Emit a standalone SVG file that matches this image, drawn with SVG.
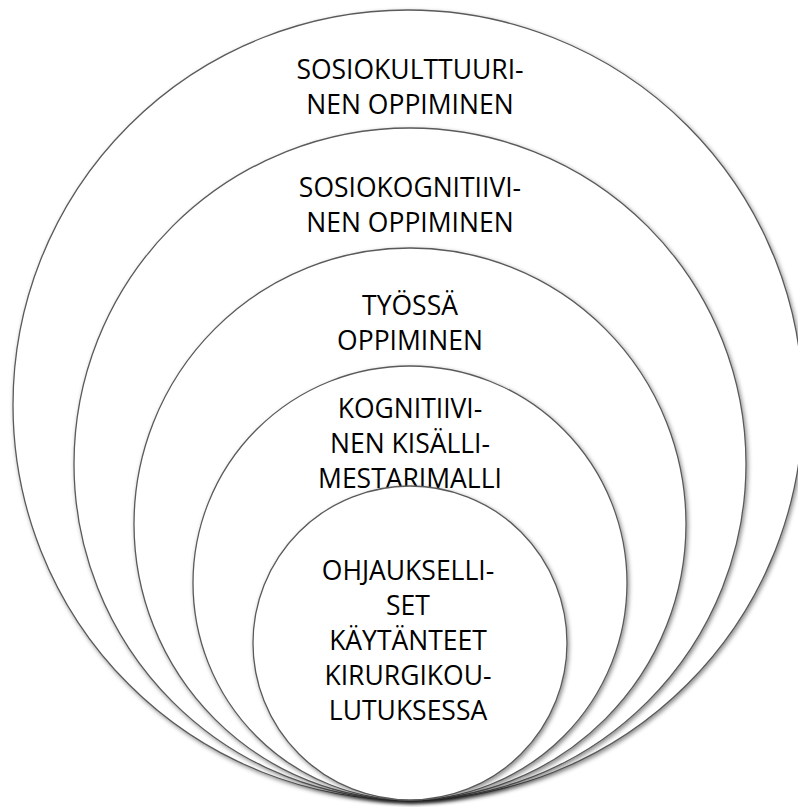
<svg xmlns="http://www.w3.org/2000/svg" width="798" height="807" viewBox="0 0 798 807">
<defs>
<filter id="sh" x="-10%" y="-10%" width="120%" height="120%">
<feDropShadow dx="1.5" dy="2" stdDeviation="2" flood-color="#000" flood-opacity="0.45"/>
</filter>
<style>
.c{fill:#fff;stroke:#5a5a5a;stroke-width:1.3;filter:url(#sh)}
.t{font-family:"Open Sans","Liberation Sans",sans-serif;font-size:26.5px;fill:#000;text-anchor:middle}
</style>
</defs>
<rect width="798" height="807" fill="#fff"/>
<g id="n1">
<circle class="c" cx="408" cy="405" r="395"/>
<text class="t" x="410" y="79">SOSIOKULTTUURI-</text>
<text class="t" x="410" y="114">NEN OPPIMINEN</text>
</g>
<g id="n2">
<circle class="c" cx="410" cy="464" r="336"/>
<text class="t" x="410" y="197">SOSIOKOGNITIIVI-</text>
<text class="t" x="410" y="232">NEN OPPIMINEN</text>
</g>
<g id="n3">
<circle class="c" cx="410" cy="524" r="276"/>
<text class="t" x="410" y="315">TYÖSSÄ</text>
<text class="t" x="410" y="350">OPPIMINEN</text>
</g>
<g id="n4">
<circle class="c" cx="410" cy="583" r="217"/>
<text class="t" x="410" y="418">KOGNITIIVI-</text>
<text class="t" x="410" y="453">NEN KISÄLLI-</text>
<text class="t" x="410" y="488">MESTARIMALLI</text>
</g>
<g id="n5">
<circle class="c" cx="410" cy="643" r="157"/>
<text class="t" x="408" y="580">OHJAUKSELLI-</text>
<text class="t" x="408" y="615">SET</text>
<text class="t" x="408" y="650">KÄYTÄNTEET</text>
<text class="t" x="408" y="685">KIRURGIKOU-</text>
<text class="t" x="408" y="720">LUTUKSESSA</text>
</g>
</svg>
